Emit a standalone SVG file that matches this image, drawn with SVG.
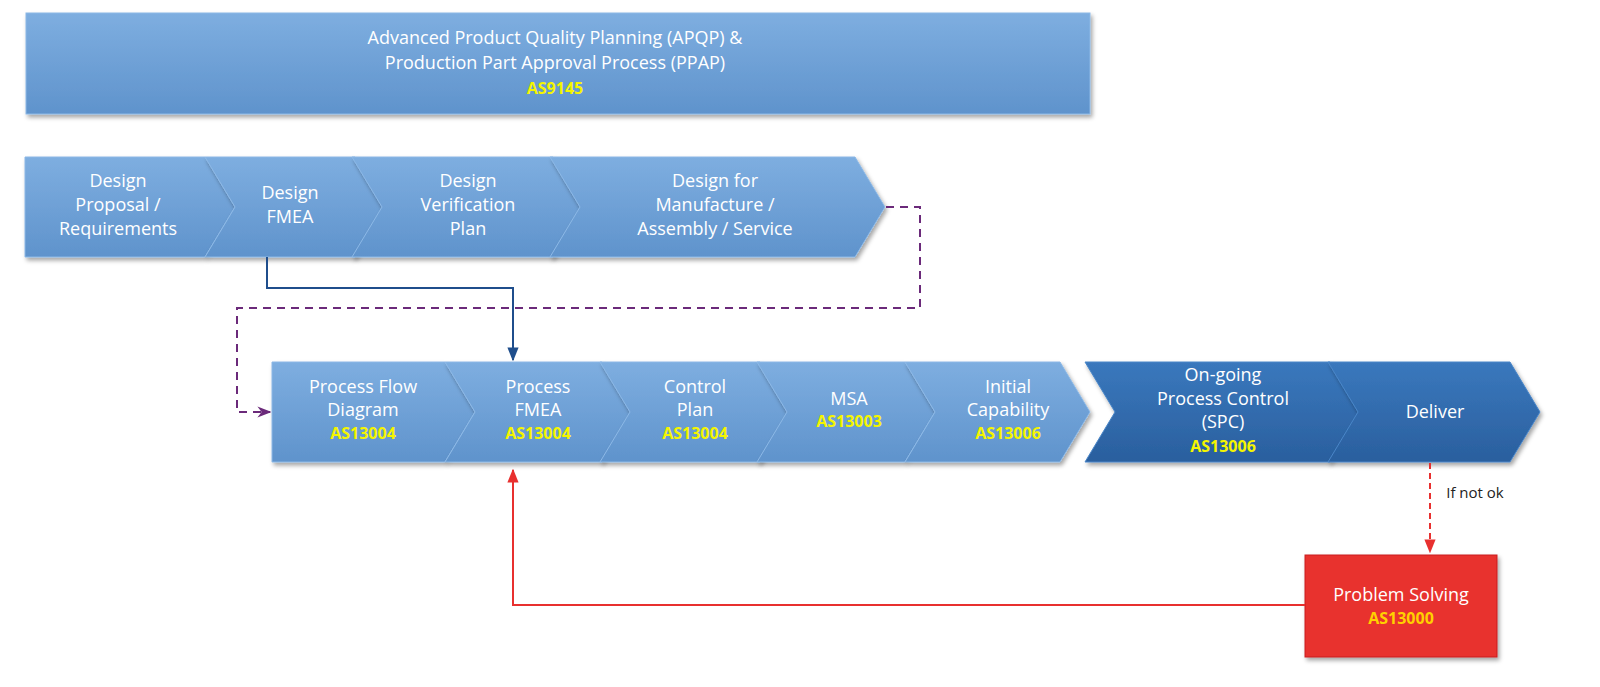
<svg xmlns="http://www.w3.org/2000/svg" width="1600" height="687" viewBox="0 0 1600 687">
<defs>
<linearGradient id="lb" x1="0" y1="0" x2="0" y2="1"><stop offset="0" stop-color="#7eaee0"/><stop offset="1" stop-color="#5f93cc"/></linearGradient>
<linearGradient id="db" x1="0" y1="0" x2="0" y2="1"><stop offset="0" stop-color="#3a78bd"/><stop offset="1" stop-color="#2a5f9e"/></linearGradient>
<filter id="sh" x="-5%" y="-5%" width="115%" height="125%"><feDropShadow dx="2" dy="3" stdDeviation="2" flood-color="#000" flood-opacity="0.35"/></filter>
<marker id="ab" viewBox="0 0 10 10" refX="9" refY="5" markerWidth="7" markerHeight="7" orient="auto"><path d="M0,1 L10,5 L0,9 z" fill="#1f4e8c"/></marker>
<marker id="ap" viewBox="0 0 10 10" refX="9" refY="5" markerWidth="7" markerHeight="7" orient="auto"><path d="M0,1 L10,5 L0,9 L3,5 z" fill="#6b2a7a"/></marker>
<marker id="ar" viewBox="0 0 10 10" refX="9" refY="5" markerWidth="7" markerHeight="7" orient="auto"><path d="M0,1 L10,5 L0,9 z" fill="#e8302f"/></marker>
</defs>
<style>
.l{fill:url(#lb);stroke:#8cb8e6;stroke-width:1;filter:url(#sh)}
.d{fill:url(#db);stroke:#4a86c8;stroke-width:1;filter:url(#sh)}
text{font-family:"Open Sans","Liberation Sans",sans-serif;font-size:18px;fill:#fff;text-anchor:middle}
.y{fill:#f5f500;font-weight:bold;font-size:16px}
.o{fill:#ffd000;font-weight:bold;font-size:16px}
.c{fill:none;stroke-width:2}
</style>
<rect width="1600" height="687" fill="#fff"/>
<g id="apqp"><rect class="l" x="26" y="13" width="1064" height="101"/>
<text x="555" y="44">Advanced Product Quality Planning (APQP) &amp;</text>
<text x="555" y="69">Production Part Approval Process (PPAP)</text>
<text class="y" x="555" y="94">AS9145</text></g>
<g id="d1"><path class="l" d="M25,157 H205 L235,207 L205,257 H25 Z"/><text x="118" y="187">Design</text><text x="118" y="211">Proposal /</text><text x="118" y="235">Requirements</text></g>
<g id="d2"><path class="l" d="M205,157 H355 L385,207 L355,257 H205 L235,207 Z"/><text x="290" y="199">Design</text><text x="290" y="223">FMEA</text></g>
<g id="d3"><path class="l" d="M352,157 H553 L583,207 L553,257 H352 L382,207 Z"/><text x="468" y="187">Design</text><text x="468" y="211">Verification</text><text x="468" y="235">Plan</text></g>
<g id="d4"><path class="l" d="M550,157 H855 L885,207 L855,257 H550 L580,207 Z"/><text x="715" y="187">Design for</text><text x="715" y="211">Manufacture /</text><text x="715" y="235">Assembly / Service</text></g>
<g id="p1"><path class="l" d="M272,362 H445 L475,412 L445,462 H272 Z"/><text x="363" y="393">Process Flow</text><text x="363" y="416">Diagram</text><text class="y" x="363" y="439">AS13004</text></g>
<g id="p2"><path class="l" d="M445,362 H602 L632,412 L602,462 H445 L475,412 Z"/><text x="538" y="393">Process</text><text x="538" y="416">FMEA</text><text class="y" x="538" y="439">AS13004</text></g>
<g id="p3"><path class="l" d="M600,362 H760 L790,412 L760,462 H600 L630,412 Z"/><text x="695" y="393">Control</text><text x="695" y="416">Plan</text><text class="y" x="695" y="439">AS13004</text></g>
<g id="p4"><path class="l" d="M757,362 H905 L935,412 L905,462 H757 L787,412 Z"/><text x="849" y="405">MSA</text><text class="y" x="849" y="427">AS13003</text></g>
<g id="p5"><path class="l" d="M905,362 H1060 L1090,412 L1060,462 H905 L935,412 Z"/><text x="1008" y="393">Initial</text><text x="1008" y="416">Capability</text><text class="y" x="1008" y="439">AS13006</text></g>
<g id="p6"><path class="d" d="M1085,362 H1330 L1360,412 L1330,462 H1085 L1115,412 Z"/><text x="1223" y="381">On-going</text><text x="1223" y="405">Process Control</text><text x="1223" y="428">(SPC)</text><text class="y" x="1223" y="452">AS13006</text></g>
<g id="p7"><path class="d" d="M1328,362 H1510 L1540,412 L1510,462 H1328 L1358,412 Z"/><text x="1435" y="418">Deliver</text></g>
<g id="ps"><rect x="1305" y="555" width="192" height="102" fill="#e8302f" stroke="#c92020" filter="url(#sh)"/><text x="1401" y="601">Problem Solving</text><text class="o" x="1401" y="624">AS13000</text></g>
<g id="connectors">
<path class="c" stroke="#1f4e8c" d="M267,257 V288 H513 V360" marker-end="url(#ab)"/>
<path class="c" stroke="#6b2a7a" stroke-dasharray="8,6" d="M886,207 H920 V308 H237 V412 H270" marker-end="url(#ap)"/>
<path class="c" stroke="#e8302f" stroke-dasharray="6,4" d="M1430,463 V552" marker-end="url(#ar)"/>
<path class="c" stroke="#e8302f" d="M1305,605 H513 V470" marker-end="url(#ar)"/>
<text x="1475" y="498" style="fill:#222;font-size:15px">If not ok</text>
</g>
</svg>
